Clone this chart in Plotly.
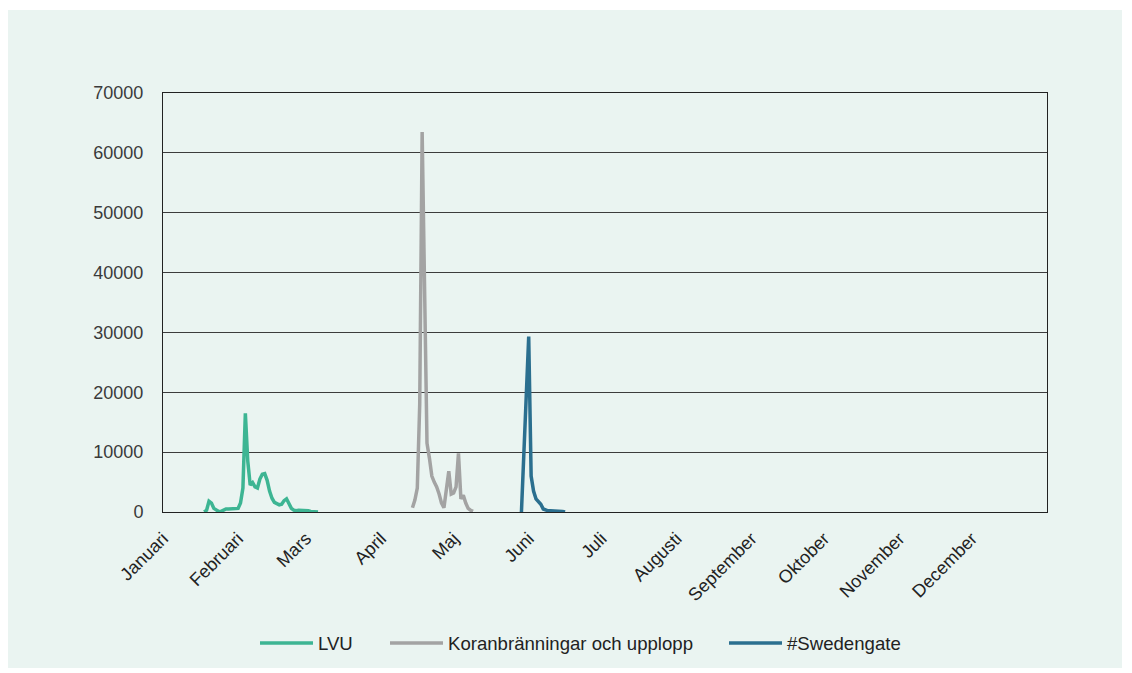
import plotly.graph_objects as go
import pandas as pd

# ---- data ----
months = ["Januari", "Februari", "Mars", "April", "Maj", "Juni", "Juli",
          "Augusti", "September", "Oktober", "November", "December"]
month_starts = ["2022-01-01", "2022-02-01", "2022-03-01", "2022-04-01", "2022-05-01",
                "2022-06-01", "2022-07-01", "2022-08-01", "2022-09-01", "2022-10-01",
                "2022-11-01", "2022-12-01"]

lvu_start = "2022-01-18"
lvu_values = [0, 300, 1800, 1500, 600, 300, 100, 100, 300, 500, 500, 500, 500, 500,
              600, 1500, 4000, 16500, 8500, 4500, 4900, 4200, 4000, 5500, 6300, 6400,
              5300, 3500, 2300, 1600, 1400, 1200, 1300, 1900, 2200, 1300, 600, 300,
              200, 300, 300, 300, 200, 200, 100, 100, 50, 0]

koran_start = "2022-04-14"
koran_values = [700, 2000, 4000, 18000, 63500, 38000, 11500, 9000, 6000, 5000, 4200,
                3000, 1500, 700, 3500, 6800, 3000, 3200, 4200, 9800, 2200, 2800,
                1500, 600, 300, 100]

swedengate_start = "2022-05-29"
swedengate_values = [0, 9000, 20000, 29300, 6000, 3500, 2200, 1700, 1300, 500, 300,
                     200, 200, 200, 200, 200, 100, 100, 0]

series_names = ["LVU", "Koranbränningar och upplopp", "#Swedengate"]
series_colors = ["#3DB593", "#A3A3A3", "#2B6F8F"]


def dates(start, vals):
    return pd.date_range(start, periods=len(vals), freq="D")


fig = go.Figure()
for name, start, vals, col in zip(series_names,
                                  [lvu_start, koran_start, swedengate_start],
                                  [lvu_values, koran_values, swedengate_values],
                                  series_colors):
    fig.add_trace(go.Scatter(x=dates(start, vals), y=vals, mode="lines", name=name,
                             line=dict(color=col, width=3.5), showlegend=False))

bg = "#EAF4F1"
fig.add_shape(type="rect", xref="paper", yref="paper",
              x0=-0.1753, x1=1.0848, y0=-0.3723, y1=1.198,
              fillcolor=bg, line=dict(width=0), layer="below")

# custom legend (long line samples as in the original)
PW = 884.0
legend_line_x = [260, 390, 729]   # px of original image
legend_y = (512 - 643) / 419.0
for name, col, lx in zip(series_names, series_colors, legend_line_x):
    x0 = (lx - 163) / PW
    x1 = (lx + 53 - 163) / PW
    fig.add_shape(type="line", xref="paper", yref="paper", x0=x0, x1=x1,
                  y0=legend_y, y1=legend_y, line=dict(color=col, width=3.5))
    fig.add_annotation(xref="paper", yref="paper", x=(lx + 56 - 163) / PW, y=legend_y,
                       text=name, showarrow=False, xanchor="left", yanchor="middle",
                       font=dict(family="Liberation Sans, Arial, sans-serif", size=18.6,
                                 color="#222222"))

font_main = "Liberation Sans, Arial, sans-serif"
fig.update_layout(
    width=1124, height=665,
    margin=dict(l=155, r=85, t=85, b=161),
    paper_bgcolor="white", plot_bgcolor=bg,
    font=dict(family=font_main, size=18, color="#3A3A3A"),
    showlegend=False,
    xaxis=dict(type="date", range=["2022-01-01", "2023-01-01"],
               tickvals=month_starts, ticktext=months, tickangle=-45,
               showgrid=False, zeroline=False, showline=True, mirror=True,
               linecolor="#222222", linewidth=1, ticks="", ticklabelstandoff=8,
               tickfont=dict(size=18, color="#222222")),
    yaxis=dict(range=[0, 70000], dtick=10000, tickformat="d",
               showgrid=True, gridcolor="#3C3C3C", gridwidth=1, zeroline=False,
               showline=True, mirror=True, linecolor="#222222", linewidth=1,
               ticks="", ticklabelstandoff=15,
               tickfont=dict(size=18, color="#3A3A3A")),
)

fig.write_html("out.html")
